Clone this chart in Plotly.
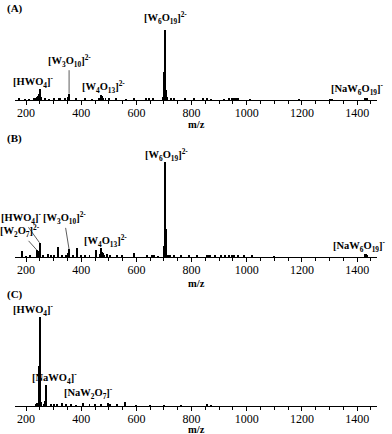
import plotly.graph_objs as go

# Datos de los espectros (m/z, intensidad relativa %)
mz_a = [175, 195, 212, 229, 236, 240, 243, 245, 247, 249, 251, 255, 270, 282, 300, 318, 322, 340,
        353, 356, 380, 415, 440, 466, 470, 472, 474, 476, 480, 488, 500, 527, 563, 593, 636, 645,
        660, 697, 699, 700, 701, 702, 703, 704, 705, 706, 707, 709, 712, 725, 735, 775, 810, 840,
        855, 870, 916, 935, 945, 950, 955, 960, 970, 1010, 1190, 1300, 1310, 1428, 1430, 1432, 1434]
int_a = [1.5, 1, 1, 1.5, 2, 4, 3, 6, 9, 16, 8, 4, 1.5, 1, 1.5, 3, 2, 1.5,
         5, 9, 1.5, 1.5, 1, 3, 5, 7, 6, 5, 3, 2, 2, 1.5, 1, 2, 1.5, 1.5,
         1.5, 4, 10, 14, 40, 72, 100, 70, 45, 14, 10, 6, 4, 2, 2, 1.5, 2.5, 1.5,
         1.5, 1, 1, 1.5, 2, 2.5, 2, 2, 1.5, 1, 1, 1, 1, 1.5, 3, 2.5, 1.5]

mz_b = [187, 200, 215, 240, 245, 247, 249, 251, 262, 280, 290, 300, 316, 330, 345, 353, 356, 370,
        385, 400, 415, 430, 452, 468, 472, 475, 478, 482, 495, 505, 530, 548, 590, 640, 655, 665,
        680, 700, 701, 702, 703, 704, 705, 706, 707, 708, 715, 722, 735, 760, 790, 820, 855, 862,
        868, 885, 905, 920, 935, 945, 955, 970, 990, 1020, 1100, 1430, 1432, 1434]
int_b = [6, 1, 1.5, 7, 4, 6, 15, 6, 1.5, 3, 2, 1.5, 11, 1.5, 2, 4, 8, 1.5,
         10, 1.5, 2, 1.5, 7, 3, 10, 5, 4, 2.5, 3.5, 2, 2, 1.5, 4, 1.5, 2, 1.5,
         1, 6, 12, 25, 50, 100, 70, 30, 12, 6, 2, 2.5, 2, 1.5, 1.5, 1.5, 2, 2,
         2, 1.5, 1.5, 1.5, 1.5, 2, 1.5, 1.5, 1.5, 1.5, 1, 3, 3.5, 2]

mz_c = [235, 240, 244, 246, 247, 248, 249, 251, 253, 264, 270, 272, 274, 290, 300, 312, 330, 345,
        362, 380, 405, 430, 450, 470, 498, 503, 530, 560, 600, 650, 700, 760, 855, 870]
int_c = [2, 3, 2, 8, 45, 10, 100, 45, 5, 2, 6, 24, 6, 2, 1.5, 2, 3, 2.5,
         1.5, 1, 3, 1.5, 2, 2, 3.5, 2, 1.5, 4.5, 1, 1, 1, 1, 1.5, 1]

tick_vals = [200, 400, 600, 800, 1000, 1200, 1400]
panel_letters = ["(A)", "(B)", "(C)"]

# Etiquetas de iones: (panel, m/z del pico, texto, dx, dy, con línea guía)
etiquetas = [
    (0, 249, "[HWO<sub>4</sub>]<sup>-</sup>", -6, 7, False),
    (0, 356, "[W<sub>3</sub>O<sub>10</sub>]<sup>2-</sup>", 0, 33, True),
    (0, 472, "[W<sub>4</sub>O<sub>13</sub>]<sup>2-</sup>", 2, 8, False),
    (0, 703, "[W<sub>6</sub>O<sub>19</sub>]<sup>2-</sup>", 1, 12, False),
    (0, 1430, "[NaW<sub>6</sub>O<sub>19</sub>]<sup>-</sup>", 21, 9, False),
    (1, 704, "[W<sub>6</sub>O<sub>19</sub>]<sup>2-</sup>", 1, 7, False),
    (1, 249, "[HWO<sub>4</sub>]<sup>-</sup>", -18, 25, True),
    (1, 356, "[W<sub>3</sub>O<sub>10</sub>]<sup>2-</sup>", -5, 31, True),
    (1, 240, "[W<sub>2</sub>O<sub>7</sub>]<sup>2-</sup>", -17, 19, True),
    (1, 472, "[W<sub>4</sub>O<sub>13</sub>]<sup>2-</sup>", 4, 7, False),
    (1, 1430, "[NaW<sub>6</sub>O<sub>19</sub>]<sup>-</sup>", 23, 8, False),
    (2, 249, "[HWO<sub>4</sub>]<sup>-</sup>", -6, 7, False),
    (2, 272, "[NaWO<sub>4</sub>]<sup>-</sup>", 9, 7, False),
    (2, 503, "[NaW<sub>2</sub>O<sub>7</sub>]<sup>-</sup>", -21, 11, False),
]

W, H = 392, 434
FUENTE = "Liberation Serif, Times New Roman, serif"
TAM = 10.5

# Posición en píxeles de cada panel: (línea base, tope del pico mayor)
paneles = [(100, 30), (257, 162), (406, 317)]
letras_y = [8, 138, 294]
mz_titulo_y = [124, 283, 429]

datos = [(mz_a, int_a), (mz_b, int_b), (mz_c, int_c)]

fig = go.Figure()
for i, (mz, inten) in enumerate(datos):
    sufijo = "" if i == 0 else str(i + 1)
    fig.add_trace(go.Bar(
        x=mz, y=inten,
        width=3.6,
        marker=dict(color="black", line=dict(width=0)),
        xaxis="x" + sufijo, yaxis="y" + sufijo,
        showlegend=False
    ))

layout = dict(
    width=W, height=H,
    margin=dict(l=0, r=0, t=0, b=0),
    paper_bgcolor="white", plot_bgcolor="white",
    font=dict(family=FUENTE, size=11, color="black"),
    bargap=0,
)
for i, (base, tope) in enumerate(paneles):
    sufijo = "" if i == 0 else str(i + 1)
    layout["xaxis" + sufijo] = dict(
        domain=[15 / W, 377 / W], range=[160, 1472],
        anchor="y" + sufijo, automargin=False,
        showline=True, linecolor="black", linewidth=1,
        showgrid=False, zeroline=False,
        tickvals=tick_vals, ticks="outside", ticklen=4, tickcolor="black", tickwidth=1,
        ticklabelstandoff=-2,
        minor=dict(dtick=50, ticks="outside", ticklen=3, tickcolor="black", showgrid=False),
        tickfont=dict(family=FUENTE, size=12, color="black"),
    )
    layout["yaxis" + sufijo] = dict(
        domain=[1 - base / H, 1 - tope / H], range=[0, 100],
        anchor="x" + sufijo, automargin=False,
        visible=False,
    )
fig.update_layout(**layout)

# Letras de los paneles y título m/z de cada eje
for letra, py, ty in zip(panel_letters, letras_y, mz_titulo_y):
    fig.add_annotation(
        text="<b>" + letra + "</b>", xref="paper", yref="paper",
        x=5 / W, y=1 - py / H, xanchor="left", yanchor="middle",
        showarrow=False, font=dict(family=FUENTE, size=11)
    )
    fig.add_annotation(
        text="<b>m/z</b>", xref="paper", yref="paper",
        x=196 / W, y=1 - ty / H, xanchor="center", yanchor="middle",
        showarrow=False, font=dict(family=FUENTE, size=TAM)
    )

# Etiquetas de iones sobre los picos
for panel, mz, texto, dx, dy, linea in etiquetas:
    sufijo = "" if panel == 0 else str(panel + 1)
    mzs, ints = datos[panel]
    y_pico = ints[mzs.index(mz)]
    if linea:
        fig.add_annotation(
            text="<b>" + texto + "</b>", x=mz, y=y_pico,
            xref="x" + sufijo, yref="y" + sufijo,
            showarrow=True, arrowhead=0, arrowwidth=0.8, arrowcolor="#333",
            ax=dx, ay=-dy, standoff=0, startstandoff=0,
            font=dict(family=FUENTE, size=TAM)
        )
    else:
        fig.add_annotation(
            text="<b>" + texto + "</b>", x=mz, y=y_pico,
            xref="x" + sufijo, yref="y" + sufijo,
            showarrow=False, xshift=dx, yshift=dy,
            xanchor="right" if mz > 1400 else "center", yanchor="middle",
            font=dict(family=FUENTE, size=TAM)
        )

# quitar el margen del body para que la figura ocupe toda la ventana
fig.write_html("out.html", config={"displayModeBar": False},
               post_script="document.body.style.margin='0';")
